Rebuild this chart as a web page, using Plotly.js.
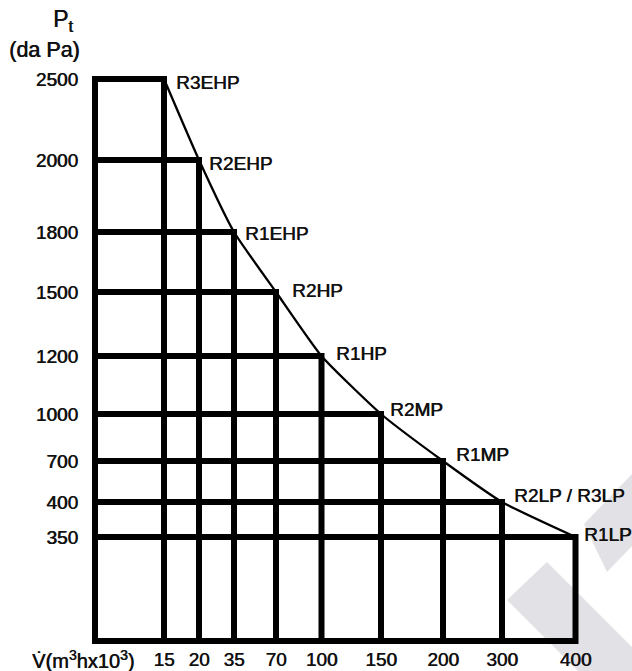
<!DOCTYPE html>
<html>
<head>
<meta charset="utf-8">
<script src="https://cdn.plot.ly/plotly-3.0.1.min.js"></script>
<style>html,body{margin:0;padding:0;background:#fff;}#chart{width:632px;height:671px;}</style>
</head>
<body>
<div id="chart"></div>
<script>
// ---- data ----
const modelNames = ['R3EHP', 'R2EHP', 'R1EHP', 'R2HP', 'R1HP', 'R2MP', 'R1MP', 'R2LP / R3LP', 'R1LP'];
const flowValues = [15, 20, 35, 70, 100, 150, 200, 300, 400];          // V (m3/h x10^3)
const pressureValues = [2500, 2000, 1800, 1500, 1200, 1000, 700, 400, 350]; // Pt (da Pa)
const flowTickLabels = ['15', '20', '35', '70', '100', '150', '200', '300', '400'];
const pressureTickLabels = ['2500', '2000', '1800', '1500', '1200', '1000', '700', '400', '350'];

// ---- layout: the diagram uses non-proportional axes, each value has its own slot ----
const flowSlot = [69, 104, 139, 181, 226.5, 286, 348, 407, 480.5];
const pressureSlot = [562, 481, 409, 349, 285, 227, 180, 139, 104];
const sx = v => flowSlot[flowValues.indexOf(v)];
const sy = v => pressureSlot[pressureTickLabels.indexOf(String(v))];
// label placement offsets in px (right, up) — style only
const labelShift = [[10, -3], [8, -3.5], [9, -1], [14, 2], [12, 3], [7, 4.5], [11, 7], [10, 7], [6, 3]];

const n = flowValues.length;
const gx = [], gy = [];
function seg(pts) { pts.forEach(p => { gx.push(p[0]); gy.push(p[1]); }); gx.push(null); gy.push(null); }
// outer frame joined with the first and last steps
seg([
  [0, sy(pressureValues[n - 1])], [sx(flowValues[n - 1]), sy(pressureValues[n - 1])],
  [sx(flowValues[n - 1]), 0], [0, 0], [0, sy(pressureValues[0])],
  [sx(flowValues[0]), sy(pressureValues[0])], [sx(flowValues[0]), 0]
]);
for (let i = 1; i < n - 1; i++) {
  seg([[0, sy(pressureValues[i])], [sx(flowValues[i]), sy(pressureValues[i])], [sx(flowValues[i]), 0]]);
}

const curveX = flowValues.map(sx);
const curveY = pressureValues.map(sy);

const traces = [
  { type: 'scatter', mode: 'lines', x: gx, y: gy, connectgaps: false,
    line: { color: '#000', width: 6 }, hoverinfo: 'skip', showlegend: false },
  { type: 'scatter', mode: 'lines', x: curveX, y: curveY,
    line: { color: '#000', width: 2.3, shape: 'spline', smoothing: 0.5 }, hoverinfo: 'skip', showlegend: false }
];

const L = 85, T = 69, W = 500, H = 576;
const px = v => (v - L) / W, py = v => (T + H - v) / H;
const font = { family: 'Arial, Liberation Sans, sans-serif', size: 19, color: '#111', shadow: '0.6px 0 0 #111' };
const withSize = s => Object.assign({}, font, { size: s });

const annotations = modelNames.map((name, i) => ({
  x: curveX[i], y: curveY[i], xref: 'x', yref: 'y', text: name, showarrow: false,
  xanchor: 'left', yanchor: 'middle', xshift: labelShift[i][0], yshift: labelShift[i][1], font: font
}));
annotations.push({ xref: 'paper', yref: 'paper', x: px(51), y: py(20), text: 'P<sub>t</sub>', showarrow: false,
  xanchor: 'left', yanchor: 'middle', font: withSize(23) });
annotations.push({ xref: 'paper', yref: 'paper', x: px(44), y: py(50), text: '(da Pa)', showarrow: false,
  xanchor: 'center', yanchor: 'middle', font: withSize(21.5) });
annotations.push({ xref: 'paper', yref: 'paper', x: px(30), y: py(659), text: 'V\u0307(m<sup>3</sup>hx10<sup>3</sup>)', showarrow: false,
  xanchor: 'left', yanchor: 'middle', font: withSize(20) });

const wm = 'rgb(226,226,230)';
const poly = pts => 'M' + pts.map(p => px(p[0]) + ',' + py(p[1])).join('L') + 'Z';
const shapes = [
  { type: 'path', xref: 'paper', yref: 'paper', layer: 'below', line: { width: 0 }, fillcolor: wm,
    path: poly([[632, 474], [584, 524], [607, 572], [632, 546]]) },
  { type: 'path', xref: 'paper', yref: 'paper', layer: 'below', line: { width: 0 }, fillcolor: wm,
    path: poly([[547, 562], [632, 647], [632, 671], [578, 671], [507, 600]]) }
];

const layout = {
  width: 632, height: 671,
  margin: { l: L, r: 632 - L - W, t: T, b: 671 - T - H, pad: 0 },
  paper_bgcolor: '#fff', plot_bgcolor: 'rgba(0,0,0,0)',
  font: font,
  xaxis: { range: [-10, 490], tickvals: flowSlot, ticktext: flowTickLabels, showgrid: false, zeroline: false,
    showline: false, ticks: '', tickfont: font, automargin: false, fixedrange: true, ticklabelstandoff: 1 },
  yaxis: { range: [-4, 572], tickvals: pressureSlot, ticktext: pressureTickLabels, showgrid: false, zeroline: false,
    showline: false, ticks: '', tickfont: font, automargin: false, fixedrange: true, ticklabelstandoff: 6 },
  annotations: annotations,
  shapes: shapes,
  showlegend: false
};

Plotly.newPlot('chart', traces, layout, { staticPlot: true, displayModeBar: false });
</script>
</body>
</html>
